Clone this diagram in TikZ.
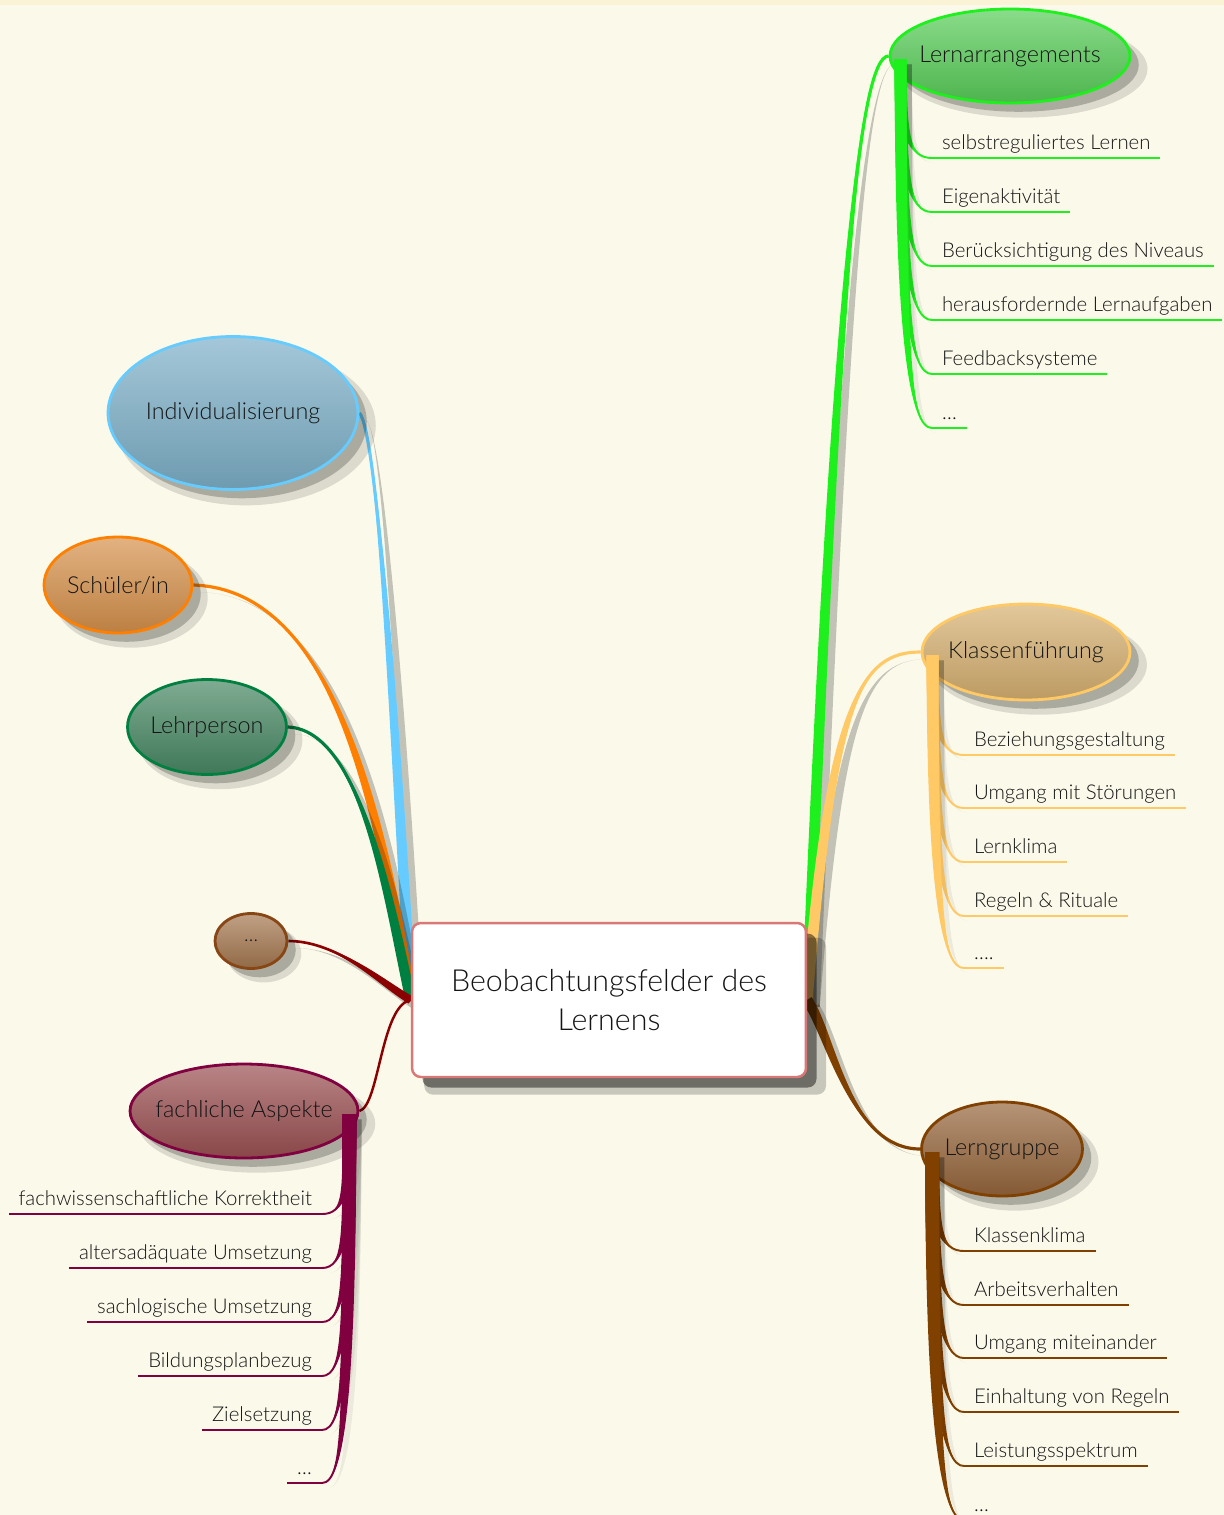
\documentclass[tikz,border=0pt]{standalone}
\usepackage{fontspec}
\setmainfont{Lato}[UprightFont=* Light,BoldFont=*]
\usetikzlibrary{shapes.geometric,calc,shadows}

\definecolor{bgc}{RGB}{251,249,234}
\definecolor{topband}{RGB}{250,243,214}
\definecolor{textc}{RGB}{20,20,20}
\definecolor{rootline}{RGB}{218,120,120}
\definecolor{lgreen}{RGB}{30,240,30}
\definecolor{lgreenfill}{RGB}{88,205,88}
\definecolor{klassline}{RGB}{255,201,102}
\definecolor{klassfill}{RGB}{214,176,112}
\definecolor{gruppeline}{RGB}{128,64,0}
\definecolor{gruppefill}{RGB}{150,102,60}
\definecolor{indivline}{RGB}{102,204,255}
\definecolor{indivfill}{RGB}{125,176,200}
\definecolor{schuelerline}{RGB}{255,128,0}
\definecolor{schuelerfill}{RGB}{214,145,75}
\definecolor{lehrline}{RGB}{0,128,64}
\definecolor{lehrfill}{RGB}{72,136,100}
\definecolor{dotsline}{RGB}{135,70,20}
\definecolor{dotsfill}{RGB}{165,120,80}
\definecolor{darkred}{RGB}{139,0,0}
\definecolor{fachline}{RGB}{128,0,64}
\definecolor{fachfill}{RGB}{155,80,82}

\pgfdeclarelayer{back}
\pgfdeclarelayer{links}
\pgfsetlayers{back,links,main}

% tapered branch: [shadow]{colour}{start}{ctrl1 rel}{ctrl2 rel}{end}{half width at start}{end width}
\newcommand\branch[8][linkshadow]{%
  \fill[#2,#1] ($(#3)+(#7)$) .. controls +(#4) and +(#5) .. (#6)
     .. controls +(#5) and +(#4) .. ($(#3)-(#7)$) -- cycle;
  \draw[#2,line width=#8] (#3) .. controls +(#4) and +(#5) .. (#6);
}

\begin{document}
\begin{tikzpicture}[x=0.02cm,y=-0.02cm,
  bubble/.style 2 args={ellipse,draw=#1,line width=1.6pt,
    top color=#2!70!white,middle color=#2,bottom color=#2!88!black,
    inner xsep=-20pt,inner ysep=0pt,text=textc,font=\fontsize{13.3}{15}\selectfont,
    drop shadow={shadow xshift=7pt,shadow yshift=-7pt,shadow scale=1.04,opacity=.12,fill=black},
    drop shadow={shadow xshift=5pt,shadow yshift=-5pt,opacity=.22,fill=black}},
  rootbox/.style={draw=rootline,line width=1.4pt,fill=white,rounded corners=5pt,
    minimum width=7.88cm,minimum height=3.08cm,align=center,text=textc,
    font=\fontsize{17.3}{22.5}\selectfont,
    drop shadow={shadow xshift=9pt,shadow yshift=-9pt,shadow scale=1.02,opacity=.2,fill=black},
    drop shadow={shadow xshift=6pt,shadow yshift=-6pt,opacity=.45,fill=black}},
  leaf/.style={inner xsep=5.5pt,inner ysep=1.5pt,text depth=3pt,text=textc,
    font=\fontsize{11.6}{13}\selectfont},
  leafline/.style={line width=1.3pt},
  linkshadow/.style={drop shadow={shadow xshift=4pt,shadow yshift=-4pt,opacity=.22,fill=black}},
  leafshadow/.style={drop shadow={shadow xshift=3pt,shadow yshift=-3pt,opacity=.06,fill=black}}]

\begin{pgfonlayer}{back}
  \fill[bgc] (0,0) rectangle (1224,1515);
  \fill[topband] (0,0) rectangle (1224,5);
\end{pgfonlayer}
\useasboundingbox (0,0) rectangle (1224,1515);

% centre and main topics
\node[rootbox] (root) at (609,1000) {Beobachtungsfelder des\\Lernens};
\node[bubble={lgreen}{lgreenfill},minimum width=4.8cm,minimum height=1.88cm] (lern) at (1010,56) {Lernarrangements};
\node[bubble={klassline}{klassfill},minimum width=4.16cm,minimum height=1.92cm] (klass) at (1026,652) {Klassenführung};
\node[bubble={gruppeline}{gruppefill},minimum width=3.22cm,minimum height=1.88cm] (lgr) at (1002,1149) {Lerngruppe};
\node[bubble={indivline}{indivfill},minimum width=5cm,minimum height=3.06cm] (indiv) at (233,413) {Individualisierung};
\node[bubble={schuelerline}{schuelerfill},minimum width=2.96cm,minimum height=1.92cm] (schueler) at (118,585) {Schüler/in};
\node[bubble={lehrline}{lehrfill},minimum width=3.18cm,minimum height=1.9cm] (lehr) at (207,727) {Lehrperson};
\node[bubble={dotsline}{dotsfill},inner xsep=0pt,minimum width=1.44cm,minimum height=1.1cm,font=\fontsize{11}{13}\selectfont] (dots) at (251,941) {…};
\node[bubble={fachline}{fachfill},minimum width=4.56cm,minimum height=1.88cm] (fach) at (244,1111) {fachliche Aspekte};

% links from the centre
\begin{pgfonlayer}{links}
  \branch{lgreen}{root.east}{29,-700}{-30,0}{lern.west}{5.5,0}{1.8pt}
  \branch{klassline}{root.east}{24,-300}{-60,0}{klass.west}{5.5,0}{1.8pt}
  \branch{gruppeline}{root.east}{24,35}{-70,0}{lgr.west}{4.4,-3}{1.8pt}
  \branch{indivline}{root.west}{-17,-300}{17,17}{indiv.east}{5.5,0}{1.8pt}
  \branch{schuelerline}{root.west}{-32,-200}{138,5}{schueler.east}{5.5,-0.8}{1.8pt}
  \branch{lehrline}{root.west}{-22,-100}{73,3}{lehr.east}{5.2,-1}{1.8pt}
  \branch{darkred}{root.west}{-27,-15}{50,0}{dots.east}{-2,3.5}{1.5pt}
  \draw[darkred,line width=1.4pt] (root.west) .. controls +(-30,5) and +(20,-5) .. (fach.east);
\end{pgfonlayer}

% Lernarrangements
\coordinate (lernS) at ($(lern.west)+(12,3)$);
\foreach \txt/\y [count=\i] in {selbstreguliertes Lernen/158,Eigenaktivität/212,
    Berücksichtigung des Niveaus/266,herausfordernde Lernaufgaben/320,
    Feedbacksysteme/374,…/428}{
  \node[leaf,anchor=south west] (lern\i) at (932,\y) {\txt};
  \pgfmathsetmacro\dy{0.78*(\y-59)}
  \branch[leafshadow]{lgreen}{lernS}{0,\dy}{-22,0}{lern\i.south west}{6,0}{1.1pt}
  \draw[lgreen,leafline] (lern\i.south west) -- (lern\i.south east);
}

% Klassenführung
\coordinate (klassS) at ($(klass.west)+(12,3)$);
\foreach \txt/\y [count=\i] in {Beziehungsgestaltung/755,Umgang mit Störungen/808,
    Lernklima/862,Regeln \& Rituale/916,…./968}{
  \node[leaf,anchor=south west] (klass\i) at (964,\y) {\txt};
  \pgfmathsetmacro\dy{0.78*(\y-655)}
  \branch[leafshadow]{klassline}{klassS}{0,\dy}{-22,0}{klass\i.south west}{6,0}{1.1pt}
  \draw[klassline,leafline] (klass\i.south west) -- (klass\i.south east);
}

% Lerngruppe
\coordinate (lgrS) at ($(lgr.west)+(12,3)$);
\foreach \txt/\y [count=\i] in {Klassenklima/1251,Arbeitsverhalten/1305,
    Umgang miteinander/1358,Einhaltung von Regeln/1412,
    Leistungsspektrum/1466,…/1520}{
  \node[leaf,anchor=south west] (lgr\i) at (964,\y) {\txt};
  \pgfmathsetmacro\dy{0.78*(\y-1152)}
  \branch[leafshadow]{gruppeline}{lgrS}{0,\dy}{-22,0}{lgr\i.south west}{7,0}{1.1pt}
  \draw[gruppeline,leafline] (lgr\i.south west) -- (lgr\i.south east);
}

% fachliche Aspekte
\coordinate (fachS) at ($(fach.east)+(-10,3)$);
\foreach \txt/\y [count=\i] in {fachwissenschaftliche Korrektheit/1214,
    altersadäquate Umsetzung/1268,sachlogische Umsetzung/1322,
    Bildungsplanbezug/1376,Zielsetzung/1430,…/1483}{
  \node[leaf,anchor=south east] (fach\i) at (322,\y) {\txt};
  \pgfmathsetmacro\dy{0.78*(\y-1114)}
  \branch[leafshadow]{fachline}{fachS}{0,\dy}{22,0}{fach\i.south east}{7,0}{1.1pt}
  \draw[fachline,leafline] (fach\i.south east) -- (fach\i.south west);
}
\end{tikzpicture}
\end{document}
